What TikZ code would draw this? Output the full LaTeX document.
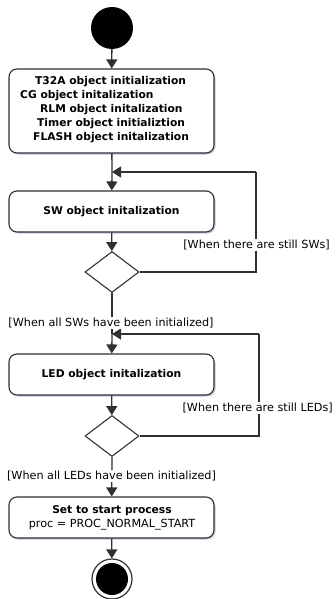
\documentclass[tikz,border=0pt]{standalone}
\usepackage{fontspec}
\setmainfont{DejaVu Sans}
\usetikzlibrary{shapes.geometric,arrows.meta,shadows}
\definecolor{ln}{HTML}{303030}
\tikzset{
  act/.style={draw=ln, line width=1.1pt, rounded corners=8pt, fill=white, minimum width=205pt, inner sep=0pt,
     drop shadow={shadow xshift=1.5pt, shadow yshift=-1.5pt, fill=blue!30!gray, opacity=0.35}},
  btxt/.style={font=\fontsize{10.7}{12}\selectfont\bfseries, inner sep=0pt},
  rtxt/.style={font=\fontsize{11.2}{12}\selectfont, inner sep=0pt},
  lbl/.style={font=\fontsize{11.2}{12}\selectfont, fill=white, inner sep=1pt},
  dec/.style={draw=ln, line width=1.1pt, diamond, aspect=1.32, minimum width=54pt, minimum height=41pt, inner sep=0pt, fill=white},
  flow/.style={draw=ln, line width=1.3pt, -{Triangle[length=9pt,width=11pt]}},
  plain/.style={draw=ln, line width=1.3pt},
}
\begin{document}
\begin{tikzpicture}[x=1pt,y=-1pt]
\useasboundingbox (0,0) rectangle (336,599);
% start
\node (start) [circle, fill=black, minimum size=42pt, inner sep=0pt] at (112,28) {};
% box1
\node (b1) [act, minimum height=84pt] at (111.5,111) {};
\node (t1) [btxt, anchor=west] at (35,82) {T32A object initialization};
\node (t2) [btxt, anchor=west] at (20,96) {CG object initalization};
\node (t3) [btxt, anchor=west] at (40,110) {RLM object initalization};
\node (t4) [btxt, anchor=west] at (37,124) {Timer object initializtion};
\node (t5) [btxt, anchor=west] at (33,138) {FLASH object initalization};
% merge 1
\coordinate (m1) at (112,172);
\node (b2) [act, minimum height=41pt, btxt] at (111.5,211.5) {SW object initalization};
\node (d1) [dec] at (112,272) {};
\coordinate (c1a) at (256,272);
\coordinate (c1b) at (256,172);
% merge 2
\coordinate (m2) at (112,334);
\node (b3) [act, minimum height=41pt, btxt] at (111.5,374.5) {LED object initalization};
\node (d2) [dec] at (112,436) {};
\coordinate (c2a) at (259,436);
\coordinate (c2b) at (259,334);
\node (b4) [act, minimum height=41pt] at (111.5,517.5) {};
\node (t6) [btxt] at (112,510.5) {Set to start process};
\node (t7) [rtxt] at (112,524.5) {proc = PROC\_NORMAL\_START};
\node (end) [circle, draw=ln, line width=1.2pt, fill=white, minimum size=40pt, inner sep=0pt] at (112,579) {};
\node (endi) [circle, fill=black, minimum size=32pt, inner sep=0pt] at (end) {};
% connectors
\draw[flow] (start) -- (b1);
\draw[plain] (b1) -- (m1);
\draw[flow] (m1) -- (b2);
\draw[flow] (b2) -- (d1);
\draw[plain] (d1.east) -- (c1a) -- (c1b);
\draw[flow] (c1b) -- (m1);
\draw[plain] (d1.south) -- (m2);
\draw[flow] (m2) -- (b3);
\draw[flow] (b3) -- (d2);
\draw[plain] (d2.east) -- (c2a) -- (c2b);
\draw[flow] (c2b) -- (m2);
\draw[flow] (d2.south) -- (b4);
\draw[flow] (b4) -- (end);
% labels
\node (l1) [lbl, anchor=east] at (331,245) {[When there are still SWs]};
\node (l2) [lbl] at (111,323) {[When all SWs have been initialized]};
\node (l3) [lbl, anchor=east] at (334,408) {[When there are still LEDs]};
\node (l4) [lbl] at (111.5,476) {[When all LEDs have been initialized]};
\end{tikzpicture}
\end{document}
